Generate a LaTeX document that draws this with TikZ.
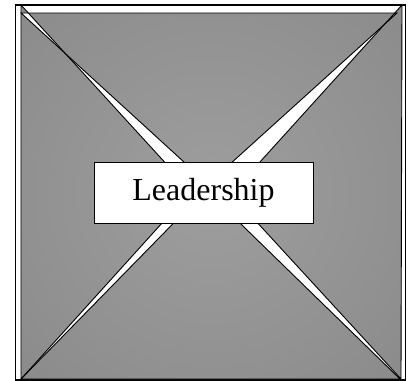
\documentclass[tikz,border=0pt]{standalone}
\usepackage{fontspec}
\setmainfont{Liberation Serif}
\usepackage{xcolor}
\usetikzlibrary{positioning}
\definecolor{ldlight}{HTML}{9E9E9E}
\definecolor{lddark}{HTML}{787878}
\pgfdeclareradialshading{ldglow}{\pgfpoint{0bp}{0bp}}{color(0bp)=(ldlight); color(71bp)=(lddark)}

\begin{document}
\begin{tikzpicture}[x=1pt, y=-1pt,
  framebox/.style={draw=black, line width=1.6pt, fill=white},
  wedge/.style={draw=black, line width=0.9pt},
  titlebox/.style={rectangle, draw=black, fill=white, line width=0.8pt,
    minimum width=219pt, minimum height=61pt, inner sep=0pt,
    font=\fontsize{32}{38}\selectfont},
]
  \useasboundingbox (0,0) rectangle (408,381);

  % outer frame
  \draw[framebox] (15.5,5) rectangle (405.5,380);

  % corners of the four triangles
  \coordinate (ttl) at (21,13);  \coordinate (ttr) at (397,13);  \coordinate (ttip) at (208,184);
  \coordinate (ltop) at (21,5);  \coordinate (lbot) at (21,379); \coordinate (ltip) at (191,191);
  \coordinate (bl) at (21,379);  \coordinate (br) at (400,379);  \coordinate (btip) at (206,190);
  \coordinate (rtop) at (402,5); \coordinate (rbot) at (401,379); \coordinate (rtip) at (231,194);

  % shaded triangles
  \shade[shading=ldglow]
    (ttl) -- (ttr) -- (ttip) -- cycle
    (ltop) -- (lbot) -- (ltip) -- cycle
    (bl) -- (br) -- (btip) -- cycle
    (rtop) -- (rbot) -- (rtip) -- cycle;
  \draw[wedge] (ttl) -- (ttr) -- (ttip) -- cycle;
  \draw[wedge] (ltop) -- (lbot) -- (ltip) -- cycle;
  \draw[wedge] (bl) -- (br) -- (btip) -- cycle;
  \draw[wedge] (rtop) -- (rbot) -- (rtip) -- cycle;

  % label
  \node[titlebox] (lead) at (203.5,192.5) {Leadership};
\end{tikzpicture}
\end{document}
